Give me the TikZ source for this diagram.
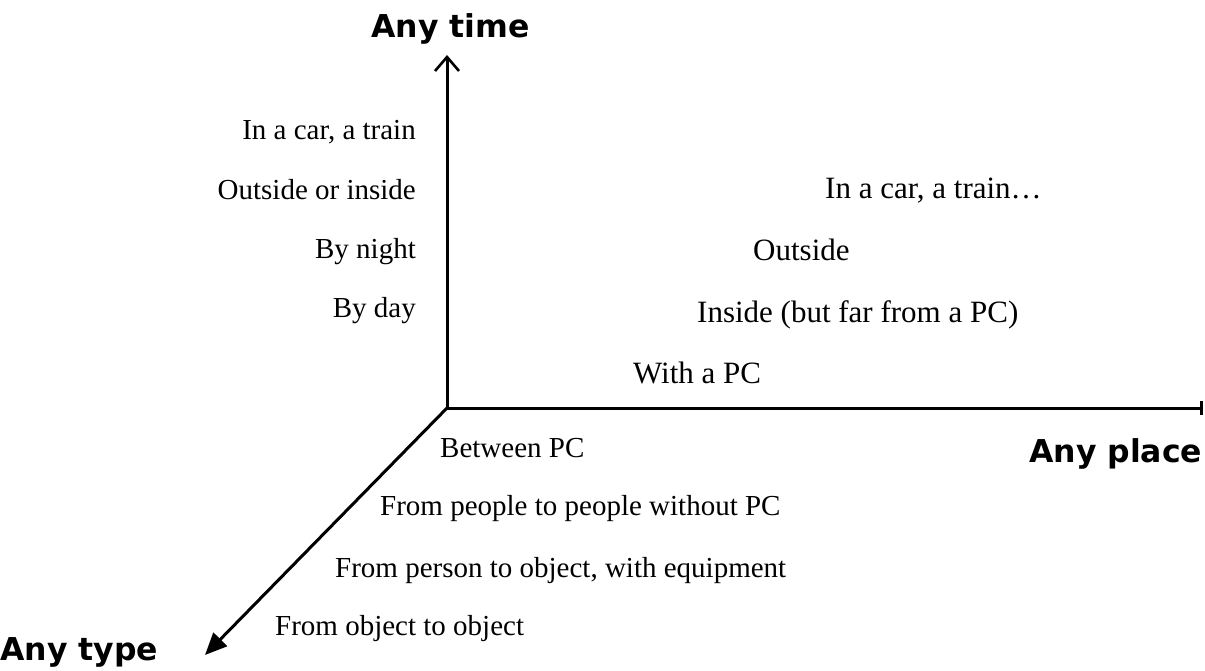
\documentclass[tikz,border=0pt]{standalone}
\usepackage{fontspec}
\setmainfont{Liberation Serif}
\newfontfamily\labfont{DejaVu Sans}
\usetikzlibrary{arrows.meta}
\tikzset{
  axis/.style={line width=3pt},
  lbl/.style={inner sep=0pt, font=\fontsize{29}{34}\selectfont},
  big/.style={inner sep=0pt, font=\fontsize{31}{36}\selectfont},
  axlab/.style={inner sep=0pt, font=\labfont\bfseries\fontsize{31.5}{36}\selectfont}
}
\begin{document}
\begin{tikzpicture}[x=1pt,y=-1pt]
\useasboundingbox (0,0) rectangle (1205,670);
\coordinate (O) at (447,408);
\coordinate (T) at (447,55);
\coordinate (P) at (1203,408);
\coordinate (Y) at (205,655);
\draw[axis,-{Straight Barb[length=14pt,width=24pt,line width=2.6pt]}] (O) -- (T);
\draw[axis,-{Bar[width=14pt,line width=3pt]}] (O) -- (P);
\draw[axis,-{Triangle[length=22pt,width=19pt]}] (O) -- (Y);
% axis labels
\node[axlab,anchor=base west] (lt) at (371,37) {Any time};
\node[axlab,anchor=base west] (lp) at (1029,462) {Any place};
\node[axlab,anchor=base west] (ly) at (0,660) {Any type};
% time
\node[lbl,anchor=base east] (t1) at (416,139) {In a car, a train};
\node[lbl,anchor=base east] (t2) at (416,199) {Outside or inside};
\node[lbl,anchor=base east] (t3) at (416,258) {By night};
\node[lbl,anchor=base east] (t4) at (416,317) {By day};
% place
\node[big,anchor=base west] (p1) at (825,198) {In a car, a train…};
\node[big,anchor=base west] (p2) at (753,260) {Outside};
\node[big,anchor=base west] (p3) at (697,322) {Inside (but far from a PC)};
\node[big,anchor=base west] (p4) at (633,383) {With a PC};
% type
\node[lbl,anchor=base west] (y1) at (440,457) {Between PC};
\node[lbl,anchor=base west] (y2) at (380,515) {From people to people without PC};
\node[lbl,anchor=base west] (y3) at (335,577) {From person to object, with equipment};
\node[lbl,anchor=base west] (y4) at (275,635) {From object to object};
\end{tikzpicture}
\end{document}
